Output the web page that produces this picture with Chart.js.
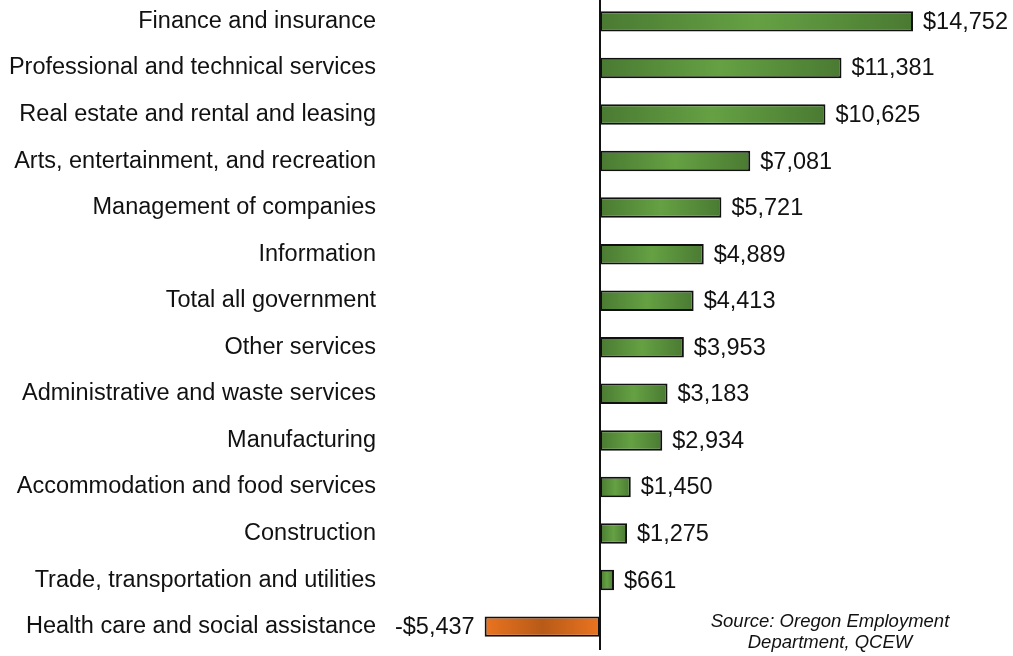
<!DOCTYPE html>
<html>
<head>
<meta charset="utf-8">
<script src="https://cdn.jsdelivr.net/npm/chart.js@4/dist/chart.umd.min.js"></script>
<style>
  body { margin: 0; background: #fff; overflow: hidden; }
  #wrap { position: relative; width: 1013px; height: 656px; overflow: hidden; }
  #wrap canvas { position: absolute; left: 0; top: -25px; }
  #source {
    position: absolute; left: 680px; top: 610px; width: 300px;
    text-align: center; font: italic 18.5px "Liberation Sans", Arial, sans-serif;
    color: #111; line-height: 21px;
  }
</style>
</head>
<body>
<div id="wrap">
  <canvas id="wageChart" width="1013" height="698"></canvas>
  <div id="source">Source: Oregon Employment<br>Department, QCEW</div>
</div>
<script>
// industries, top to bottom
const industries = [
  "Finance and insurance",
  "Professional and technical services",
  "Real estate and rental and leasing",
  "Arts, entertainment, and recreation",
  "Management of companies",
  "Information",
  "Total all government",
  "Other services",
  "Administrative and waste services",
  "Manufacturing",
  "Accommodation and food services",
  "Construction",
  "Trade, transportation and utilities",
  "Health care and social assistance",
];
// change in average wage, dollars
const wageChange = [14752, 11381, 10625, 7081, 5721, 4889, 4413, 3953, 3183, 2934, 1450, 1275, 661, -5437];

const FONT = '"Liberation Sans", Arial, sans-serif';

const fmt = (v) => (v < 0 ? "-$" : "$") + Math.abs(v).toLocaleString("en-US");

const barFill = (c) => {
  const chart = c.chart;
  const v = c.raw;
  if (!chart.chartArea || v === undefined) return v < 0 ? "#e07020" : "#5a9140";
  const xs = chart.scales.x;
  const a = xs.getPixelForValue(0);
  const b = xs.getPixelForValue(v);
  const g = chart.ctx.createLinearGradient(Math.min(a, b), 0, Math.max(a, b), 0);
  if (v < 0) {
    g.addColorStop(0, "#ea7420");
    g.addColorStop(0.5, "#b85a18");
    g.addColorStop(1, "#ea7420");
  } else {
    g.addColorStop(0, "#4a7a32");
    g.addColorStop(0.5, "#65a143");
    g.addColorStop(1, "#4a7a32");
  }
  return g;
};

// vertical line at zero
const zeroLine = {
  id: "zeroLine",
  afterDatasetsDraw(chart) {
    const ctx = chart.ctx;
    const x = Math.round(chart.scales.x.getPixelForValue(0));
    ctx.save();
    ctx.strokeStyle = "#111";
    ctx.lineWidth = 2;
    ctx.beginPath();
    ctx.moveTo(x, chart.chartArea.top);
    ctx.lineTo(x, chart.chartArea.bottom);
    ctx.stroke();
    ctx.restore();
  },
};

const valueLabels = {
  id: "valueLabels",
  afterDatasetsDraw(chart) {
    const ctx = chart.ctx;
    const meta = chart.getDatasetMeta(0);
    ctx.save();
    ctx.font = "23.5px " + FONT;
    ctx.fillStyle = "#111";
    ctx.textBaseline = "middle";
    meta.data.forEach((bar, i) => {
      const v = wageChange[i];
      if (v < 0) {
        ctx.textAlign = "right";
        ctx.fillText(fmt(v), bar.x - 10, bar.y + 1);
      } else {
        ctx.textAlign = "left";
        ctx.fillText(fmt(v), bar.x + 10, bar.y + 1);
      }
    });
    ctx.restore();
  },
};

new Chart(document.getElementById("wageChart"), {
  type: "bar",
  data: {
    labels: industries,
    datasets: [
      {
        data: wageChange,
        backgroundColor: barFill,
        borderColor: "#111",
        borderWidth: 2,
        borderSkipped: false,
        barPercentage: 0.44,
        categoryPercentage: 1,
      },
    ],
  },
  options: {
    indexAxis: "y",
    responsive: false,
    animation: false,
    layout: { padding: { left: 0, right: 0, top: 0, bottom: 7 } },
    plugins: {
      legend: { display: false },
      tooltip: { enabled: false },
    },
    scales: {
      x: {
        display: false,
        min: -10133,
        max: 19465,
      },
      y: {
        afterFit: (axis) => { axis.width = 385; },
        border: { display: false },
        grid: { display: false, drawTicks: false },
        ticks: {
          padding: 9,
          color: "#111",
          font: { family: FONT, size: 23.5 },
        },
      },
    },
  },
  plugins: [zeroLine, valueLabels],
});
</script>
</body>
</html>
